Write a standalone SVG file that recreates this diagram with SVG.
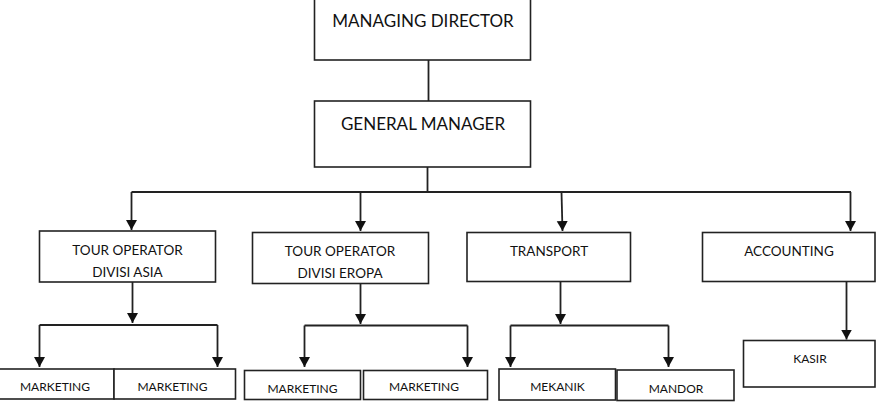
<svg xmlns="http://www.w3.org/2000/svg" width="892" height="404" viewBox="0 0 892 404">
<defs>
<style>
.box{fill:#fff;stroke:#222;stroke-width:1.6}
.ln{fill:none;stroke:#222;stroke-width:1.8}
.t{font-family:Lato,"Open Sans",sans-serif;fill:#111;text-anchor:middle}
.big{font-size:17px}
.mid{font-size:13.5px}
.sm{font-size:12px}
</style>
<marker id="ah" markerUnits="userSpaceOnUse" markerWidth="12" markerHeight="12" refX="10" refY="5.5" orient="auto">
<path d="M0,0 L10,5.5 L0,11 z" fill="#111"/>
</marker>
</defs>
<rect width="892" height="404" fill="#fff"/>
<g id="connectors">
<line class="ln" x1="428.5" y1="60" x2="428.5" y2="101"/>
<line class="ln" x1="427.5" y1="167" x2="427.5" y2="192"/>
<line class="ln" x1="131.5" y1="192" x2="851" y2="192"/>
<line class="ln" x1="131.5" y1="192" x2="131.5" y2="230" marker-end="url(#ah)"/>
<line class="ln" x1="360.5" y1="192" x2="360.5" y2="231" marker-end="url(#ah)"/>
<line class="ln" x1="561.5" y1="192" x2="562.5" y2="231" marker-end="url(#ah)"/>
<line class="ln" x1="850.5" y1="192" x2="850.5" y2="231" marker-end="url(#ah)"/>
<line class="ln" x1="132.5" y1="282" x2="132.5" y2="323" marker-end="url(#ah)"/>
<polyline class="ln" points="39.5,325 217.5,325"/>
<line class="ln" x1="39.5" y1="325" x2="39.5" y2="367" marker-end="url(#ah)"/>
<line class="ln" x1="217.5" y1="325" x2="217.5" y2="367" marker-end="url(#ah)"/>
<line class="ln" x1="360.5" y1="283" x2="360.5" y2="324" marker-end="url(#ah)"/>
<polyline class="ln" points="304.5,325.5 467.5,325.5"/>
<line class="ln" x1="304.5" y1="325.5" x2="304.5" y2="367" marker-end="url(#ah)"/>
<line class="ln" x1="467.5" y1="325.5" x2="467.5" y2="367" marker-end="url(#ah)"/>
<line class="ln" x1="560.5" y1="282" x2="560.5" y2="324" marker-end="url(#ah)"/>
<polyline class="ln" points="510.5,325.5 668.5,325.5"/>
<line class="ln" x1="510.5" y1="325.5" x2="510.5" y2="367" marker-end="url(#ah)"/>
<line class="ln" x1="668.5" y1="325.5" x2="668.5" y2="367" marker-end="url(#ah)"/>
<line class="ln" x1="846.5" y1="282" x2="846.5" y2="339.5" marker-end="url(#ah)"/>
</g>
<g id="managing-director"><rect class="box" x="314.5" y="-2" width="216" height="62"/><text class="t big" x="423" y="27">MANAGING DIRECTOR</text></g>
<g id="general-manager"><rect class="box" x="314.5" y="101" width="216" height="66"/><text class="t big" x="423" y="130">GENERAL MANAGER</text></g>
<g id="tour-asia"><rect class="box" x="39.5" y="231" width="176" height="51"/><text class="t mid" x="127.5" y="255">TOUR OPERATOR</text><text class="t mid" x="127.5" y="277">DIVISI ASIA</text></g>
<g id="tour-eropa"><rect class="box" x="252.5" y="232.5" width="176" height="51"/><text class="t mid" x="340" y="256">TOUR OPERATOR</text><text class="t mid" x="340" y="278">DIVISI EROPA</text></g>
<g id="transport"><rect class="box" x="467" y="232.5" width="163.5" height="49"/><text class="t mid" x="549" y="256">TRANSPORT</text></g>
<g id="accounting"><rect class="box" x="702.5" y="232.5" width="172.5" height="49"/><text class="t mid" x="789" y="256">ACCOUNTING</text></g>
<g id="marketing-1"><rect class="box" x="-1" y="369" width="115" height="30"/><text class="t sm" x="55" y="391">MARKETING</text></g>
<g id="marketing-2"><rect class="box" x="114" y="369" width="121.5" height="30"/><text class="t sm" x="172.5" y="391">MARKETING</text></g>
<g id="marketing-3"><rect class="box" x="244.5" y="370.5" width="116" height="29"/><text class="t sm" x="302.5" y="393">MARKETING</text></g>
<g id="marketing-4"><rect class="box" x="363.5" y="370.5" width="124" height="29"/><text class="t sm" x="424" y="391">MARKETING</text></g>
<g id="mekanik"><rect class="box" x="499" y="369" width="116.5" height="31"/><text class="t sm" x="557.5" y="391">MEKANIK</text></g>
<g id="mandor"><rect class="box" x="617" y="370" width="117" height="30.5"/><text class="t sm" x="676" y="393">MANDOR</text></g>
<g id="kasir"><rect class="box" x="743.5" y="340.5" width="131.5" height="46.5"/><text class="t sm" x="810" y="363">KASIR</text></g>
</svg>
